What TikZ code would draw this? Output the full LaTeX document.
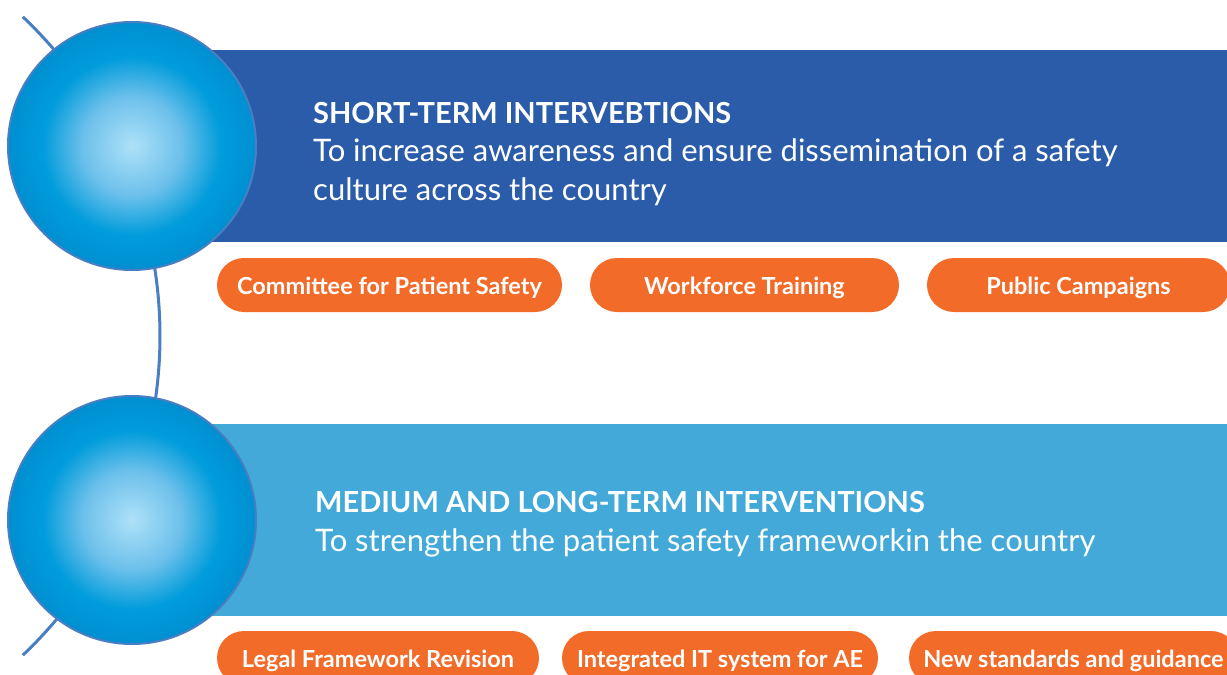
\documentclass[tikz,border=0pt]{standalone}
\usepackage{fontspec}
\setmainfont{Lato}

\definecolor{bandDark}{HTML}{2A5CAA}
\definecolor{bandLight}{HTML}{42A9D8}
\definecolor{pillOrange}{HTML}{F26B29}
\definecolor{orbStroke}{HTML}{4A7EC2}
\definecolor{orbCenter}{HTML}{AEE1F8}
\definecolor{orbMid}{HTML}{6CC0EB}
\definecolor{orbRing}{HTML}{009CDB}
\definecolor{orbEdge}{HTML}{0090D2}

% the path's bounding box covers the inner 50bp square, so the rim sits at 25bp
\pgfdeclareradialshading{orbshade}{\pgfpoint{0bp}{0bp}}{%
  color(0bp)=(orbCenter); color(10bp)=(orbMid); color(18bp)=(orbRing);
  color(24.5bp)=(orbEdge); color(50bp)=(orbEdge)}

\tikzset{
  orb/.style={circle, minimum size=248pt, inner sep=0pt, shading=orbshade,
    draw=orbStroke, line width=2pt},
  pill/.style={rounded corners=27pt, fill=pillOrange, minimum height=54pt,
    inner sep=0pt, text height=22pt, text depth=3pt, text=white,
    font=\fontsize{23.5}{26}\selectfont\bfseries},
  headtitle/.style={anchor=base west, inner sep=0pt, text=white,
    font=\fontsize{29}{34}\selectfont\bfseries},
  headbody/.style={anchor=base west, inner sep=0pt, text=white, align=left,
    font=\fontsize{31}{38.5}\selectfont}
}

\begin{document}
\begin{tikzpicture}[x=1pt, y=-1pt]
  \useasboundingbox (0,0) rectangle (1227,675);
  \clip (0,0) rectangle (1227,675);

  % the thread that links the two orbs
  \coordinate (arccentre) at (-280,336);
  \draw[orbStroke, line width=3pt]
    (arccentre) ++(46.5:440pt) arc[start angle=46.5, end angle=-46.5, radius=440pt];

  % bands
  \fill[bandDark] (210,50) rectangle (1227,242);
  \fill[bandLight] (210,424) rectangle (1227,616);

  % orbs
  \node[orb] (orbtop) at (132,146) {};
  \node[orb] (orbbottom) at (132,520) {};

  % band texts (a two-line node sits on the baseline of its last line)
  \node[headtitle] (titletop) at (313,123) {SHORT-TERM INTERVEBTIONS};
  \node[headbody] (bodytop) at (313,200)
    {To increase awareness and ensure dissemination of a safety\\culture across the country};
  \node[headtitle] (titlebottom) at (315,512) {MEDIUM AND LONG-TERM INTERVENTIONS};
  \node[headbody] (bodybottom) at (315,551)
    {To strengthen the patient safety frameworkin the country};

  % short-term actions
  \node[pill, minimum width=345pt] (p1) at (389.5,285) {Committee for Patient Safety};
  \node[pill, minimum width=309pt] (p2) at (744.5,285) {Workforce Training};
  \node[pill, minimum width=303pt] (p3) at (1078.5,285) {Public Campaigns};

  % medium and long-term actions
  \node[pill, minimum width=322pt] (q1) at (378,658) {Legal Framework Revision};
  \node[pill, minimum width=316pt] (q2) at (720,658) {Integrated IT system for AE};
  \node[pill, minimum width=329pt] (q3) at (1073.5,658) {New standards and guidance};
\end{tikzpicture}
\end{document}
